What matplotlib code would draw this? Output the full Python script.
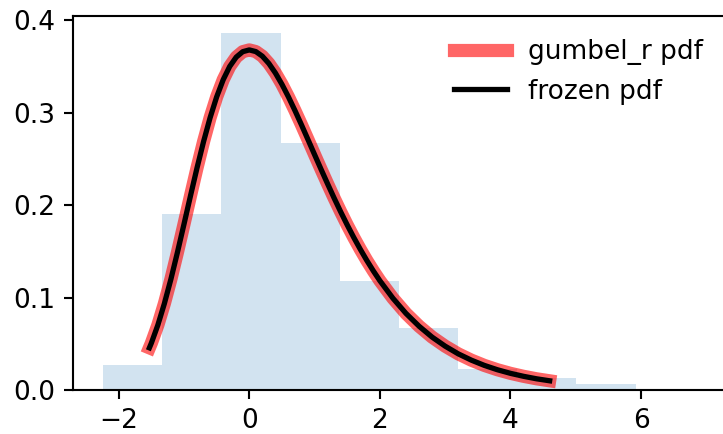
import matplotlib
matplotlib.use("Agg")
import matplotlib.pyplot as plt
import numpy as np

# Histogram (density)
bin_edges = [-2.24, -1.335, -0.43, 0.48, 1.385, 2.29, 3.20, 4.105, 5.01, 5.92]
bin_density = [0.0271, 0.1907, 0.3857, 0.2676, 0.1184, 0.0668, 0.0228, 0.0126, 0.0062]

# PDF curve points
curve_x = [-1.53, -1.5, -1.4, -1.3, -1.2, -1.1, -1.0, -0.9, -0.8, -0.7, -0.6, -0.5,
           -0.4, -0.3, -0.2, -0.1, 0.0, 0.1, 0.2, 0.3, 0.4, 0.5, 0.6, 0.7, 0.8,
           0.9, 1.0, 1.1, 1.2, 1.3, 1.4, 1.5, 1.6, 1.7, 1.8, 1.9, 2.0, 2.2, 2.4,
           2.6, 2.8, 3.0, 3.2, 3.4, 3.6, 3.8, 4.0, 4.2, 4.4, 4.6]
curve_y = [0.0456, 0.0507, 0.0703, 0.0936, 0.1200, 0.1490, 0.1794, 0.2102, 0.2404,
           0.2688, 0.2946, 0.3170, 0.3356, 0.3500, 0.3601, 0.3660, 0.3679, 0.3661,
           0.3611, 0.3532, 0.3429, 0.3307, 0.3170, 0.3022, 0.2867, 0.2707, 0.2546,
           0.2386, 0.2229, 0.2075, 0.1927, 0.1785, 0.1650, 0.1522, 0.1401, 0.1288,
           0.1182, 0.0992, 0.0828, 0.0690, 0.0572, 0.0474, 0.0391, 0.0323, 0.0266,
           0.0219, 0.0180, 0.0148, 0.0121, 0.00995]

DPI = 190
fig = plt.figure(figsize=(723/DPI, 434/DPI), dpi=DPI)
ax = fig.add_axes([0.1014, 0.1014, 0.9036, 0.8626])

ax.plot(curve_x, curve_y, 'r-', lw=5, alpha=0.6, label='gumbel_r pdf')
ax.plot(curve_x, curve_y, 'k-', lw=2, label='frozen pdf')
ax.stairs(bin_density, bin_edges, fill=True, alpha=0.2, color='C0')

ax.set_xlim(-2.695, 7.31)
ax.set_ylim(0, 0.405)
ax.set_xticks([-2, 0, 2, 4, 6])
ax.set_yticks([0.0, 0.1, 0.2, 0.3, 0.4])
ax.legend(loc='best', frameon=False)

fig.savefig("out.png", dpi=DPI)
